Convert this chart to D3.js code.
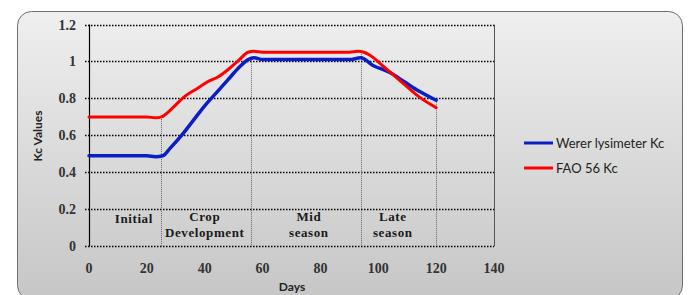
<!DOCTYPE html>
<html>
<head>
    <meta charset="utf-8">
    <style>
        body { margin: 0; background: #fff; }
        svg { display: block; }
    </style>
</head>
<body>
    <svg width="693" height="295"></svg>

    <script src="https://cdn.jsdelivr.net/npm/d3@7/dist/d3.min.js"></script>
    <script>

    // Werer lysimeter Kc
    var wererDays = [0, 10, 20, 23, 25.5, 28, 32, 36, 40, 44, 48, 52, 55, 57, 60, 70, 80, 90, 94, 98, 104, 109, 114, 120],
        wererKc   = [0.49, 0.49, 0.49, 0.485, 0.49, 0.53, 0.60, 0.68, 0.76, 0.83, 0.90, 0.97, 1.01, 1.02, 1.01, 1.01, 1.01, 1.01, 1.02, 0.98, 0.94, 0.89, 0.84, 0.79];

    // FAO 56 Kc
    var faoDays = [0, 10, 20, 23, 25, 29, 33, 37, 41, 45, 48, 52, 55, 57, 60, 70, 80, 90, 93, 95, 97, 102, 108, 114, 120],
        faoKc   = [0.70, 0.70, 0.70, 0.695, 0.70, 0.75, 0.81, 0.85, 0.89, 0.92, 0.955, 1.01, 1.05, 1.055, 1.05, 1.05, 1.05, 1.05, 1.055, 1.05, 1.035, 0.97, 0.89, 0.81, 0.75];

    // growth stages
    var stageEnds = [25, 56, 94, 120],
        stageTops = [0.70, 1.02, 1.05, 0.79],
        stageNames = [["Initial"], ["Crop", "Development"], ["Mid", "season"], ["Late", "season"]],
        stageLabelDays = [15.5, 40, 76, 105];

    var xTicks = [0, 20, 40, 60, 80, 100, 120, 140],
        yTicks = [0, 0.2, 0.4, 0.6, 0.8, 1, 1.2];

    var series = [
        { name: "Werer lysimeter Kc", days: wererDays, kc: wererKc, color: "#0a1ec8", width: 3.5 },
        { name: "FAO 56 Kc", days: faoDays, kc: faoKc, color: "#ff0000", width: 3 }
    ];

    var svg = d3.select("svg");

    var x = d3.scaleLinear().domain([0, 140]).range([89, 494]),
        y = d3.scaleLinear().domain([0, 1.2]).range([246.3, 24.5]);

    // background panel
    var grad = svg.append("defs").append("linearGradient")
        .attr("id", "bg")
        .attr("x1", 0).attr("y1", 0).attr("x2", 0).attr("y2", 1);
    grad.append("stop").attr("offset", "0%").attr("stop-color", "#efefef");
    grad.append("stop").attr("offset", "100%").attr("stop-color", "#c6c6c6");

    svg.append("rect")
        .attr("x", 17.5).attr("y", 11.5)
        .attr("width", 665).attr("height", 288)
        .attr("rx", 14).attr("ry", 14)
        .attr("fill", "url(#bg)")
        .attr("stroke", "#6e6e6e")
        .attr("stroke-width", 1);

    // horizontal grid
    svg.append("g").selectAll("line")
        .data(yTicks)
        .join("line")
        .attr("x1", 85).attr("x2", x(140))
        .attr("y1", function(d) { return Math.round(y(d)) + 0.5; })
        .attr("y2", function(d) { return Math.round(y(d)) + 0.5; })
        .attr("stroke", "#000")
        .attr("stroke-width", 1.4)
        .attr("stroke-dasharray", "1.5,1.5");

    // plot frame: solid left axis, grey right edge
    svg.append("line")
        .attr("x1", 89.5).attr("x2", 89.5)
        .attr("y1", y(1.2)).attr("y2", y(0))
        .attr("stroke", "#000").attr("stroke-width", 1.2);
    svg.append("line")
        .attr("x1", x(140) + 0.5).attr("x2", x(140) + 0.5)
        .attr("y1", y(1.2)).attr("y2", y(0))
        .attr("stroke", "#555").attr("stroke-width", 1);

    // stage boundaries
    svg.append("g").selectAll("line")
        .data(stageEnds)
        .join("line")
        .attr("x1", function(d) { return Math.round(x(d)) + 0.5; })
        .attr("x2", function(d) { return Math.round(x(d)) + 0.5; })
        .attr("y1", function(d, i) { return y(stageTops[i]); })
        .attr("y2", y(0))
        .attr("stroke", "#666")
        .attr("stroke-width", 1)
        .attr("stroke-dasharray", "1,1");

    // stage labels
    var labels = svg.append("g")
        .attr("font-family", "'Liberation Serif', serif")
        .attr("font-weight", "bold")
        .attr("font-size", 13)
        .attr("letter-spacing", 0.6)
        .attr("fill", "#1a1a1a")
        .attr("text-anchor", "middle");
    stageNames.forEach(function(lines, i) {
        var base = lines.length == 1 ? 223 : 221;
        lines.forEach(function(t, j) {
            labels.append("text")
                .attr("x", x(stageLabelDays[i]))
                .attr("y", base + j * 16)
                .text(t);
        });
    });

    // lines
    var line = d3.line()
        .curve(d3.curveMonotoneX);

    series.forEach(function(s) {
        svg.append("path")
            .datum(s.days.map(function(d, i) { return [x(d), y(s.kc[i])]; }))
            .attr("d", line)
            .attr("fill", "none")
            .attr("stroke", s.color)
            .attr("stroke-width", s.width)
            .attr("stroke-linejoin", "round")
            .attr("stroke-linecap", "round");
    });

    // tick labels
    svg.append("g")
        .attr("font-family", "'Liberation Serif', serif")
        .attr("font-weight", "bold")
        .attr("font-size", 14)
        .attr("fill", "#333")
        .attr("text-anchor", "end")
        .selectAll("text")
        .data(yTicks)
        .join("text")
        .attr("x", 76)
        .attr("y", function(d) { return y(d) + 5; })
        .text(function(d) { return d3.format("")(d); });

    svg.append("g")
        .attr("font-family", "'Liberation Serif', serif")
        .attr("font-weight", "bold")
        .attr("font-size", 14)
        .attr("fill", "#333")
        .attr("text-anchor", "middle")
        .selectAll("text")
        .data(xTicks)
        .join("text")
        .attr("x", function(d) { return x(d); })
        .attr("y", 273)
        .text(function(d) { return d; });

    // axis titles
    svg.append("text")
        .attr("transform", "translate(42,136) rotate(-90)")
        .attr("text-anchor", "middle")
        .attr("font-family", "Lato, sans-serif")
        .attr("font-weight", "bold")
        .attr("font-size", 12)
        .attr("fill", "#222")
        .text("Kc Values");

    svg.append("text")
        .attr("x", 292).attr("y", 291)
        .attr("text-anchor", "middle")
        .attr("font-family", "Lato, sans-serif")
        .attr("font-weight", "bold")
        .attr("font-size", 12)
        .attr("fill", "#222")
        .text("Days");

    // legend
    var legend = svg.append("g").selectAll("g")
        .data(series)
        .join("g")
        .attr("transform", function(d, i) { return "translate(524," + (143 + i * 25) + ")"; });
    legend.append("line")
        .attr("x1", 0).attr("x2", 29)
        .attr("stroke", function(d) { return d.color; })
        .attr("stroke-width", 3);
    legend.append("text")
        .attr("x", 32).attr("y", 4.5)
        .attr("font-family", "Lato, sans-serif")
        .attr("font-size", 13)
        .attr("fill", "#222")
        .text(function(d) { return d.name; });

    </script>
</body>
</html>
